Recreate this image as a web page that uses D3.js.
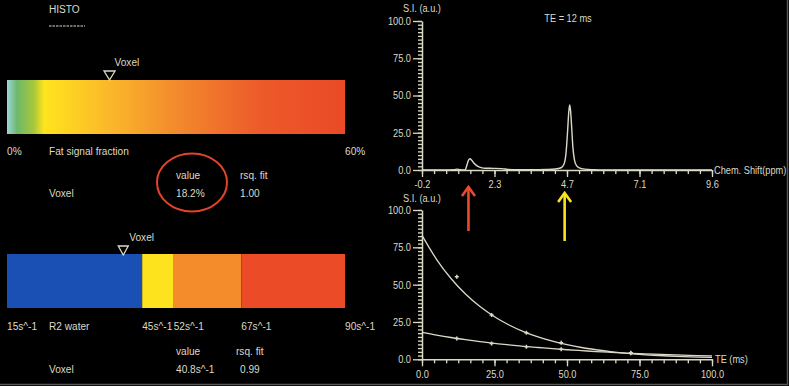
<!DOCTYPE html>
<html>
<head>
<meta charset="utf-8">
<script src="https://cdn.jsdelivr.net/npm/d3@7"></script>
<style>
body{margin:0;background:#000;}
svg{display:block;font-family:"Liberation Sans",Arial,sans-serif;}
</style>
</head>
<body>
<svg class="svg1"></svg>
<script>
// fat signal fraction bar
var fatStops = [0, 0.03, 0.08, 0.11, 0.3, 0.5, 0.75, 1];
var fatColors = ["#9cd6da","#6cb86a","#a8c83c","#ffe41e","#fbb82a","#f38a2c","#ec5a2a","#ea4a26"];
var fatRange = [0, 60];
var fatLabels = ["0%", "60%"];
var fatValue = 18.2;
var fatRsq = "1.00";

// R2 water bar
var r2Bounds = [15, 45, 52, 67, 90];
var r2Colors = ["#1a50b4","#fde31e","#f58c2b","#eb4b26"];
var r2Labels = ["15s^-1","45s^-1","52s^-1","67s^-1","90s^-1"];
var r2Value = 40.8;
var r2Rsq = "0.99";

// spectrum TE = 12 ms
var ppm =    [-0.2, 0.5, 0.9, 0.98, 1.08, 1.2, 1.26, 1.32, 1.37, 1.42, 1.48, 1.56, 1.66, 1.8, 1.95, 2.2, 2.5, 2.7, 3.0, 3.5, 4.0, 4.3, 4.5, 4.6, 4.67, 4.72, 4.76, 4.79, 4.82, 4.86, 4.9, 4.95, 5.02, 5.12, 5.3, 5.6, 6.0, 9.6];
var signal = [0,    0,   0.2, 0.6,  0.2,  0,   0.1,  3.5,  6.5,  7.6,  6.5,  4.5,  2.8,  1.6, 1.2,  1.1, 0.9, 0.4, 0.2, 0.2, 0.4, 0.7, 1.5, 4,   12,   26,   39,   43.6, 40,   28,   15,  7,    3,    1.5,  0.6, 0.2, 0,   0];
var ppmTickLabels = ["-0.2","2.3","4.7","7.1","9.6"];
var arrowPpm = [1.37, 4.62];
var arrowColors = ["#ec4a2a", "#f8e41c"];

// R2 decay
var teFit = [0,5,10,15,20,25,30,35,40,45,50,55,60,65,70,75,80,85,90,95,100];
var fitFat = [83, 67, 54.1, 43.7, 35.3, 28.5, 23.0, 18.6, 15.0, 12.1, 9.8, 7.9, 6.4, 5.1, 4.1, 3.3, 2.7, 2.2, 1.8, 1.5, 1.3];
var fitWater = [18, 16.2, 14.6, 13.2, 11.9, 10.7, 9.7, 8.7, 7.9, 7.1, 6.4, 5.8, 5.2, 4.7, 4.2, 3.8, 3.4, 3.1, 2.8, 2.5, 2.3];
var teMeas = [12, 24, 36, 48, 72];
var measFat = [55.3, 29.7, 17.8, 11.1, 4.4];
var measWater = [14, 10.5, 8.4, 6.7, 4];

var canvasW = 789;
var canvasH = 386;
var ink = "#dcdac6";
var narrow = 0.88; // squeeze Arial into the narrow look of the original

var svg = d3.select(".svg1")
            .attr("width", canvasW)
            .attr("height", canvasH);
svg.append("rect")
    .attr("width", "100%")
    .attr("height", "100%")
    .attr("fill", "#000");

var txt = function(x, y, s, size, anchor){
  return svg.append("g")
    .attr("transform", "translate(" + x + "," + y + ") scale(" + narrow + ",1)")
    .append("text")
    .attr("fill", ink)
    .attr("font-size", size || 11.5)
    .attr("text-anchor", anchor || "start")
    .text(s);
};

// ---------- left panel ----------
txt(49, 13, "HISTO");
svg.append("line")
    .attr("x1", 49).attr("x2", 85).attr("y1", 26).attr("y2", 26)
    .attr("stroke", ink).attr("stroke-width", 1)
    .attr("stroke-dasharray", "2.5,1");

var fatX = d3.scaleLinear().domain(fatRange).range([7, 345]);

var grad = svg.append("defs").append("linearGradient")
    .attr("id", "fatGrad");
grad.selectAll("stop")
    .data(fatStops)
    .enter()
    .append("stop")
    .attr("offset", function(d){return d;})
    .attr("stop-color", function(d,i){return fatColors[i];});

svg.append("rect")
    .attr("x", fatX(fatRange[0])).attr("y", 80)
    .attr("width", fatX(fatRange[1]) - fatX(fatRange[0])).attr("height", 54)
    .attr("fill", "url(#fatGrad)");

var marker = function(x, yTop, yBot, w){
  svg.append("path")
    .attr("d", "M" + (x - w/2) + "," + yTop + "L" + (x + w/2) + "," + yTop + "L" + x + "," + yBot + "Z")
    .attr("fill", "none").attr("stroke", ink).attr("stroke-width", 1.3);
};
marker(fatX(fatValue), 71, 80, 11);
txt(fatX(fatValue) + 5, 66, "Voxel");

txt(fatX(fatRange[0]), 155, fatLabels[0]);
txt(49, 155, "Fat signal fraction");
txt(fatX(fatRange[1]), 155, fatLabels[1]);

txt(176, 179, "value");
txt(240, 179, "rsq. fit");
txt(49, 197, "Voxel");
txt(176, 197, fatValue.toFixed(1) + "%");
txt(240, 197, fatRsq);

svg.append("ellipse")
    .attr("cx", 192).attr("cy", 182.5)
    .attr("rx", 35).attr("ry", 29)
    .attr("fill", "none").attr("stroke", "#e2432a").attr("stroke-width", 2);

var r2X = d3.scaleLinear().domain([r2Bounds[0], r2Bounds[r2Bounds.length-1]]).range([7, 345]);
svg.selectAll("rect.r2")
    .data(r2Colors)
    .enter()
    .append("rect")
    .attr("class", "r2")
    .attr("x", function(d,i){return r2X(r2Bounds[i]);})
    .attr("width", function(d,i){return r2X(r2Bounds[i+1]) - r2X(r2Bounds[i]);})
    .attr("y", 254).attr("height", 54)
    .attr("fill", function(d){return d;});

marker(r2X(r2Value), 246, 255, 10);
txt(r2X(r2Value) + 6, 241, "Voxel");

r2Bounds.forEach(function(b, i){
  txt(r2X(b), 330, r2Labels[i]);
});
txt(49, 330, "R2 water");
txt(176, 355, "value");
txt(236, 355, "rsq. fit");
txt(49, 373, "Voxel");
txt(176, 373, r2Value.toFixed(1) + "s^-1");
txt(240, 373, r2Rsq);

// ---------- axes helper ----------
var styleAxis = function(g){
  g.selectAll("path").attr("stroke", ink).attr("stroke-width", 1.5);
  g.selectAll("line").attr("stroke", ink).attr("stroke-width", 1.3);
  g.selectAll("text")
    .attr("fill", ink).attr("font-size", 10.5)
    .attr("x", function(){return +d3.select(this).attr("x") / narrow;})
    .attr("transform", "scale(" + narrow + ",1)");
};

var drawAxes = function(x, y, xMajor, xLabels, yBase){
  var x0 = x.range()[0];
  var xStep = (xMajor[1] - xMajor[0]) / 6;
  var xMinor = d3.range(xMajor[0], xMajor[xMajor.length-1] + xStep/2, xStep);
  var yMinor = d3.range(0, 100.1, 2.5);

  var gy = svg.append("g").attr("transform", "translate(" + x0 + ",0)");
  gy.call(d3.axisLeft(y).tickValues(yMinor).tickSize(4).tickSizeOuter(0).tickFormat(""));
  gy.call(styleAxis);
  var gy2 = svg.append("g").attr("transform", "translate(" + x0 + ",0)");
  gy2.call(d3.axisLeft(y).tickValues([0,25,50,75,100]).tickSize(9).tickSizeOuter(0).tickPadding(2).tickFormat(d3.format(".1f")));
  gy2.select("path").remove();
  gy2.call(styleAxis);

  var gx = svg.append("g").attr("transform", "translate(0," + yBase + ")");
  gx.call(d3.axisBottom(x).tickValues(xMinor).tickSize(4).tickSizeOuter(0).tickFormat(""));
  gx.call(styleAxis);
  var gx2 = svg.append("g").attr("transform", "translate(0," + yBase + ")");
  gx2.call(d3.axisBottom(x).tickValues(xMajor).tickSize(7).tickSizeOuter(0).tickPadding(4)
      .tickFormat(function(d,i){return xLabels[i];}));
  gx2.select("path").remove();
  gx2.call(styleAxis);
};

// ---------- spectrum ----------
var specX = d3.scaleLinear().domain([-0.2, 9.6]).range([422, 712]);
var specY = d3.scaleLinear().domain([0, 100]).range([170, 21]);
var ppmMajor = ppmTickLabels.map(function(d,i){return -0.2 + i * (9.8 / (ppmTickLabels.length - 1));});
drawAxes(specX, specY, ppmMajor, ppmTickLabels, 170);

svg.append("path")
    .datum(ppm)
    .attr("d", d3.line()
        .x(function(d){return specX(d);})
        .y(function(d,i){return specY(signal[i]);})
        .curve(d3.curveMonotoneX))
    .attr("fill", "none").attr("stroke", ink).attr("stroke-width", 1.4);

txt(403, 12, "S.I. (a.u.)", 10.5);
txt(568, 22, "TE = 12 ms", 10.5, "middle");
txt(714, 174, "Chem. Shift(ppm)", 10.5);

// arrows
arrowPpm.forEach(function(p, i){
  var ax = specX(p);
  var top = i == 0 ? 187 : 193;
  var bot = i == 0 ? 231 : 241;
  svg.append("line")
    .attr("x1", ax).attr("x2", ax).attr("y1", top + 1).attr("y2", bot)
    .attr("stroke", arrowColors[i]).attr("stroke-width", 2.6);
  svg.append("path")
    .attr("d", "M" + (ax - 6.5) + "," + (top + 9) + "L" + ax + "," + top + "L" + (ax + 6.5) + "," + (top + 9))
    .attr("fill", "none").attr("stroke", arrowColors[i]).attr("stroke-width", 2.6);
});

// ---------- R2 decay ----------
var teX = d3.scaleLinear().domain([0, 100]).range([422, 712]);
var siY = d3.scaleLinear().domain([0, 100]).range([359.3, 210]);
drawAxes(teX, siY, [0,25,50,75,100], ["0.0","25.0","50.0","75.0","100.0"], 359.3);

var fitLine = function(vals){
  return d3.line()
    .x(function(d){return teX(d);})
    .y(function(d,i){return siY(vals[i]);})
    .curve(d3.curveMonotoneX);
};
svg.append("path").datum(teFit).attr("d", fitLine(fitFat))
    .attr("fill", "none").attr("stroke", ink).attr("stroke-width", 1.3);
svg.append("path").datum(teFit).attr("d", fitLine(fitWater))
    .attr("fill", "none").attr("stroke", ink).attr("stroke-width", 1.3);

var dots = function(vals){
  svg.selectAll(null)
    .data(teMeas)
    .enter()
    .append("path")
    .attr("d", function(d,i){
      var cx = teX(d), cy = siY(vals[i]);
      return "M" + (cx-2) + "," + cy + "L" + (cx+2) + "," + cy + "M" + cx + "," + (cy-2) + "L" + cx + "," + (cy+2);
    })
    .attr("stroke", ink).attr("stroke-width", 1.5);
};
dots(measFat);
dots(measWater);

txt(403, 202, "S.I. (a.u.)", 10.5);
txt(715, 363, "TE (ms)", 10.5);

// frame edges
svg.append("path")
    .attr("d", "M0," + (canvasH - 1.5) + "L" + (canvasW - 1.5) + "," + (canvasH - 1.5) + "L" + (canvasW - 1.5) + ",0")
    .attr("fill", "none").attr("stroke", "#555").attr("stroke-width", 1.5);
</script>
</body>
</html>
